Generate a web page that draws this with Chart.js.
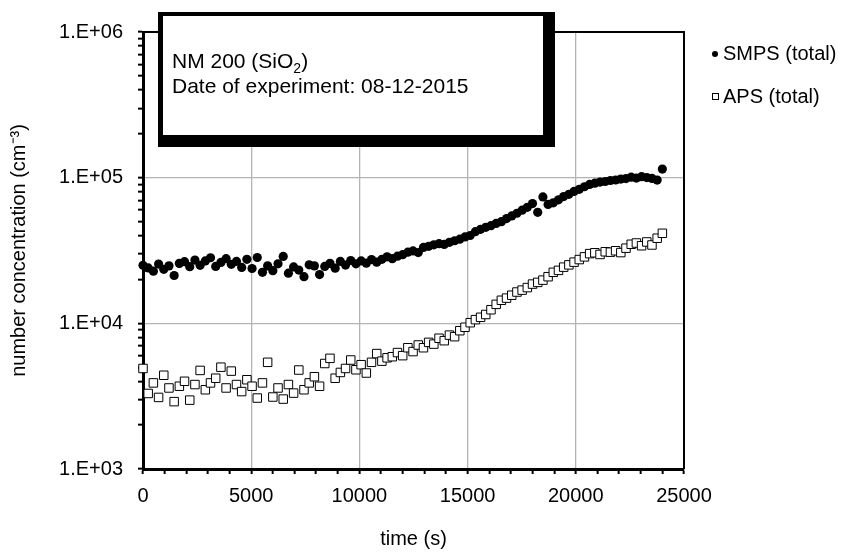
<!DOCTYPE html>
<html>
<head>
<meta charset="utf-8">
<script src="https://cdn.jsdelivr.net/npm/chart.js@4.4.1/dist/chart.umd.min.js"></script>
<style>
    html, body { margin: 0; padding: 0; background: #fff; }
    #dataChart { display: block; }
</style>
</head>
<body>
<canvas id="dataChart" width="851" height="553"></canvas>
<script>
// sample times (s)
const timeSec = [
    0, 240, 480, 720, 960, 1200, 1440, 1680, 1920, 2160,
    2400, 2640, 2880, 3120, 3360, 3600, 3840, 4080, 4320, 4560,
    4800, 5040, 5280, 5520, 5760, 6000, 6240, 6480, 6720, 6960,
    7200, 7440, 7680, 7920, 8160, 8400, 8640, 8880, 9120, 9360,
    9600, 9840, 10080, 10320, 10560, 10800, 11040, 11280, 11520, 11760,
    12000, 12240, 12480, 12720, 12960, 13200, 13440, 13680, 13920, 14160,
    14400, 14640, 14880, 15120, 15360, 15600, 15840, 16080, 16320, 16560,
    16800, 17040, 17280, 17520, 17760, 18000, 18240, 18480, 18720, 18960,
    19200, 19440, 19680, 19920, 20160, 20400, 20640, 20880, 21120, 21360,
    21600, 21840, 22080, 22320, 22560, 22800, 23040, 23280, 23520, 23760,
    24000
];

// number concentration (cm-3)
const smpsTotal = [
    25000, 24000, 22800, 25500, 23500, 24800, 21300, 25800, 26500, 24500,
    27200, 25000, 26800, 28200, 24600, 26200, 27800, 25400, 26600, 24200,
    27500, 23800, 28300, 22400, 24800, 23000, 25600, 28800, 22100, 24400,
    23200, 20900, 25200, 24800, 21600, 24600, 25800, 23900, 26600, 25100,
    27000, 25600, 26800, 25900, 27400, 26300, 27500, 28600, 27800, 28900,
    29600, 30800, 31400, 30600, 33200, 33800, 34600, 35200, 34800, 36000,
    36900, 37800, 39200, 40100, 42600, 44200, 45600, 46800, 48500, 49900,
    52400, 54600, 57000, 59800, 62600, 66400, 57800, 73800, 65500, 67200,
    70500, 74200, 76800, 80400, 83200, 86600, 89800, 91600, 93200, 94100,
    95600, 96400, 97800, 98600, 100800, 99400, 101600, 100200, 98800, 96200,
    114600
];

const apsTotal = [
    4900, 3300, 3900, 3100, 4400, 3600, 2900, 3700, 4000, 2970,
    3800, 4750, 3500, 3900, 4200, 5000, 3600, 4700, 3800, 3400,
    4100, 3700, 3070, 3900, 5400, 3120, 3600, 3020, 3800, 3320,
    4780, 3500, 3900, 4300, 3700, 5300, 5750, 4200, 4600, 4900,
    5600, 4800, 5200, 4560, 5400, 6200, 5500, 5800, 5900, 6300,
    6000, 6800, 6400, 7100, 6800, 7400, 7200, 7900, 7600, 8300,
    8100, 8900, 9400, 10100, 10600, 11000, 11500, 12400, 13500, 14400,
    14900, 15600, 16400, 16900, 17600, 18600, 19100, 19800, 20900, 22400,
    23100, 24300, 25200, 26300, 27400, 28600, 30100, 30500, 29700, 31000,
    30800, 31500, 30600, 32800, 34900, 35600, 34100, 36200, 34500, 38400,
    41500
];

const seriesNames = ['SMPS (total)', 'APS (total)'];
const xMajorTicks = [0, 5000, 10000, 15000, 20000, 25000];
const yMajorTicks = [1e3, 1e4, 1e5, 1e6];
const yTickLabels = ['1.E+03', '1.E+04', '1.E+05', '1.E+06'];
const noteLines = ['NM 200 (SiO', '2', ')', 'Date of experiment: 08-12-2015'];

const fontFamily = "'Liberation Sans', Arial, sans-serif";
const gridGray = '#b4b4b4';

// minor ticks 2..9 for every decade
const yTickValues = [];
yMajorTicks.forEach((v, i) => {
    yTickValues.push(v);
    if (i < yMajorTicks.length - 1) {
        for (let s = 2; s <= 9; s++) yTickValues.push(s * v);
    }
});

Chart.defaults.font.family = fontFamily;
Chart.defaults.color = '#000';

const framePlugin = {
    id: 'frameAndNotes',
    afterDraw(chart) {
        const ctx = chart.ctx;
        const a = chart.chartArea;
        ctx.save();

        // top and right frame lines
        ctx.strokeStyle = '#000';
        ctx.lineWidth = 2;
        ctx.beginPath();
        ctx.moveTo(a.left, a.top);
        ctx.lineTo(a.right, a.top);
        ctx.lineTo(a.right, a.bottom);
        ctx.stroke();

        // text box with heavy shadowed border
        ctx.fillStyle = '#000';
        ctx.fillRect(158, 12, 397, 135);
        ctx.fillStyle = '#fff';
        ctx.fillRect(163, 16, 380, 119);

        ctx.fillStyle = '#000';
        ctx.textAlign = 'left';
        ctx.textBaseline = 'alphabetic';
        ctx.font = '21px ' + fontFamily;
        let x = 172;
        ctx.fillText(noteLines[0], x, 68);
        x += ctx.measureText(noteLines[0]).width;
        ctx.font = '14px ' + fontFamily;
        ctx.fillText(noteLines[1], x, 73);
        x += ctx.measureText(noteLines[1]).width;
        ctx.font = '21px ' + fontFamily;
        ctx.fillText(noteLines[2], x, 68);
        ctx.fillText(noteLines[3], 172, 93);

        // legend
        ctx.font = '20px ' + fontFamily;
        ctx.textBaseline = 'middle';
        ctx.beginPath();
        ctx.arc(715, 54, 3, 0, Math.PI * 2);
        ctx.fill();
        ctx.fillText(seriesNames[0], 723, 54);

        ctx.lineWidth = 1;
        ctx.fillStyle = '#fff';
        ctx.fillRect(712.5, 93.5, 6, 6);
        ctx.strokeRect(712.5, 93.5, 6, 6);
        ctx.fillStyle = '#000';
        ctx.fillText(seriesNames[1], 723, 97);

        ctx.restore();
    }
};

let chart = new Chart(document.getElementById('dataChart'), {
    type: 'scatter',
    data: {
        datasets: [
            {
                label: seriesNames[0],
                data: timeSec.map((t, i) => ({x: t, y: smpsTotal[i]})),
                pointStyle: 'circle',
                pointRadius: 4.6,
                pointBackgroundColor: '#000',
                pointBorderColor: '#000',
                pointBorderWidth: 0,
                clip: false
            },
            {
                label: seriesNames[1],
                data: timeSec.map((t, i) => ({x: t, y: apsTotal[i]})),
                pointStyle: 'rect',
                pointRadius: 6,
                pointBackgroundColor: '#fff',
                pointBorderColor: '#000',
                pointBorderWidth: 1,
                clip: false
            }
        ]
    },
    options: {
        responsive: false,
        animation: false,
        devicePixelRatio: 1,
        layout: {
            padding: {top: 32, right: 167, bottom: 0, left: 0}
        },
        scales: {
            x: {
                type: 'linear',
                min: 0,
                max: 25000,
                afterFit: (scale) => { scale.height = 84; },
                ticks: {
                    stepSize: 1000,
                    autoSkip: false,
                    maxRotation: 0,
                    padding: 10,
                    font: {size: 20},
                    color: '#000',
                    callback: function (value) {
                        return xMajorTicks.includes(value) ? String(value) : '';
                    }
                },
                grid: {
                    color: (c) => (c.tick && xMajorTicks.includes(c.tick.value) ? gridGray : 'rgba(0,0,0,0)'),
                    lineWidth: 1.3,
                    tickColor: '#000',
                    tickWidth: 2,
                    tickLength: 5
                },
                border: {color: '#000', width: 3},
                title: {
                    display: true,
                    text: 'time (s)',
                    font: {size: 20},
                    color: '#000',
                    padding: {top: 0, bottom: 2}
                }
            },
            y: {
                type: 'logarithmic',
                min: 1000,
                max: 1000000,
                afterFit: (scale) => { scale.width = 143; },
                afterBuildTicks: (scale) => {
                    scale.ticks = yTickValues.map((v) => ({value: v}));
                },
                ticks: {
                    autoSkip: false,
                    padding: 15,
                    font: {size: 20},
                    color: '#000',
                    callback: function (value) {
                        const i = yMajorTicks.indexOf(value);
                        return i >= 0 ? yTickLabels[i] : '';
                    }
                },
                grid: {
                    color: (c) => (c.tick && yMajorTicks.includes(c.tick.value) ? gridGray : 'rgba(0,0,0,0)'),
                    lineWidth: 1.3,
                    tickColor: '#000',
                    tickWidth: 2,
                    tickLength: 5
                },
                border: {color: '#000', width: 3},
                title: {
                    display: true,
                    text: 'number concentration (cm⁻³)',
                    font: {size: 20},
                    color: '#000',
                    padding: {top: 7, bottom: 0}
                }
            }
        },
        plugins: {
            legend: {display: false},
            tooltip: {enabled: false}
        }
    },
    plugins: [framePlugin]
});
</script>
</body>
</html>
